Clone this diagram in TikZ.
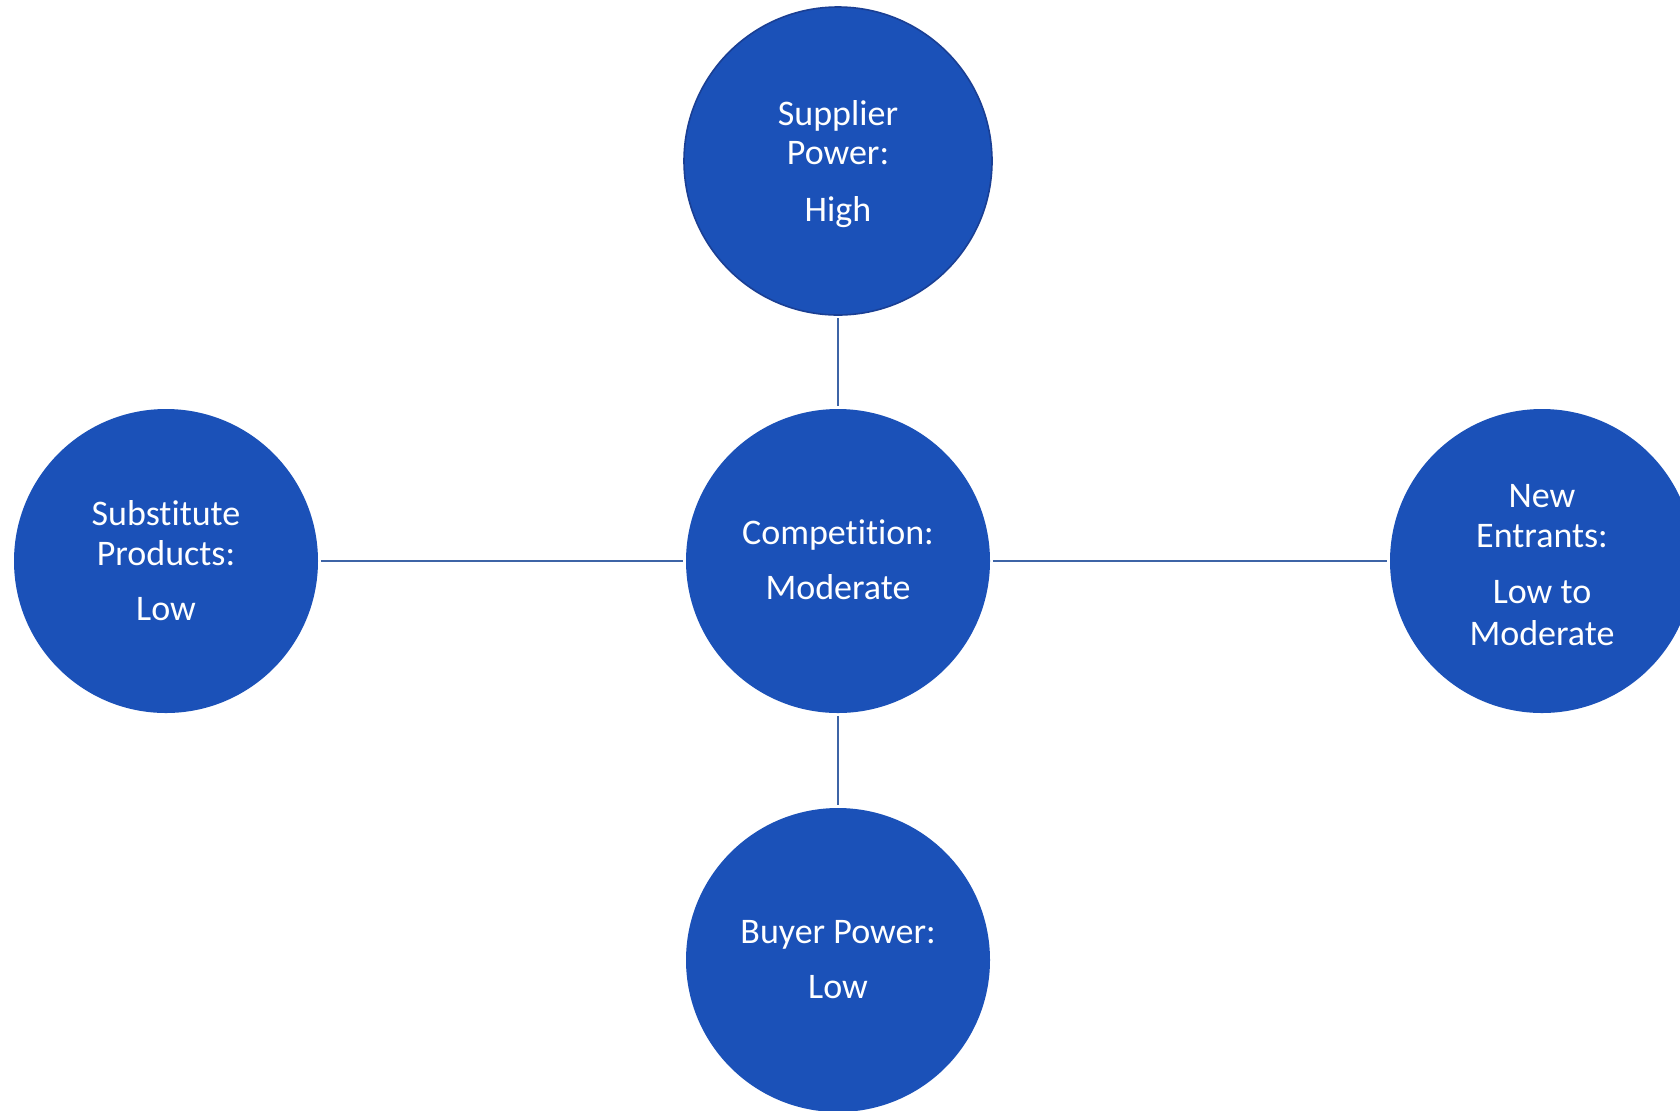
\documentclass[tikz,border=0pt]{standalone}
\usepackage{fontspec}
\setmainfont{Carlito}[Ligatures={NoCommon,NoRare,NoContextual},Contextuals=NoAlternate]
\definecolor{circfill}{HTML}{1B51B8}
\definecolor{circedge}{HTML}{1A3F94}
\definecolor{linkcol}{HTML}{3E64A6}
\tikzset{
  force/.style={circle, fill=circfill, inner sep=0pt, minimum size=152pt},
  lbl/.style={text=white, anchor=base, inner sep=0pt, font=\fontsize{18pt}{20pt}\selectfont},
  link/.style={draw=linkcol, line width=1.3pt, shorten <=1.2pt, shorten >=1.2pt}
}
\begin{document}
\begin{tikzpicture}[x=0.5pt,y=-0.5pt]
\useasboundingbox (0,0) rectangle (1680,1110);
\fill[white] (0,0) rectangle (1680,1110);
\clip (0,0) rectangle (1680,1110);
% circles
\node[force, minimum size=154pt, draw=circedge, line width=0.8pt] (sup) at (838,161) {};
\node[force] (comp) at (838,561) {};
\node[force] (sub) at (166,561) {};
\node[force] (new) at (1542,561) {};
\node[force] (buy) at (838,960) {};
% connectors
\draw[link] (sup) -- (comp);
\draw[link] (comp) -- (buy);
\draw[link] (sub) -- (comp);
\draw[link] (comp) -- (new);
% texts
\node[lbl] (sup1) at (838,125) {Supplier};
\node[lbl] (sup2) at (838,164) {Power:};
\node[lbl] (sup3) at (838,221) {High};
\node[lbl] (comp1) at (838,544) {Competition:};
\node[lbl] (comp2) at (838,599) {Moderate};
\node[lbl] (sub1) at (166,525) {Substitute};
\node[lbl] (sub2) at (166,565) {Products:};
\node[lbl] (sub3) at (166,620) {Low};
\node[lbl] (new1) at (1542,507) {New};
\node[lbl] (new2) at (1542,547) {Entrants:};
\node[lbl] (new3) at (1542,603) {Low to};
\node[lbl] (new4) at (1542,645) {Moderate};
\node[lbl] (buy1) at (838,943) {Buyer Power:};
\node[lbl] (buy2) at (838,998) {Low};
\end{tikzpicture}
\end{document}
